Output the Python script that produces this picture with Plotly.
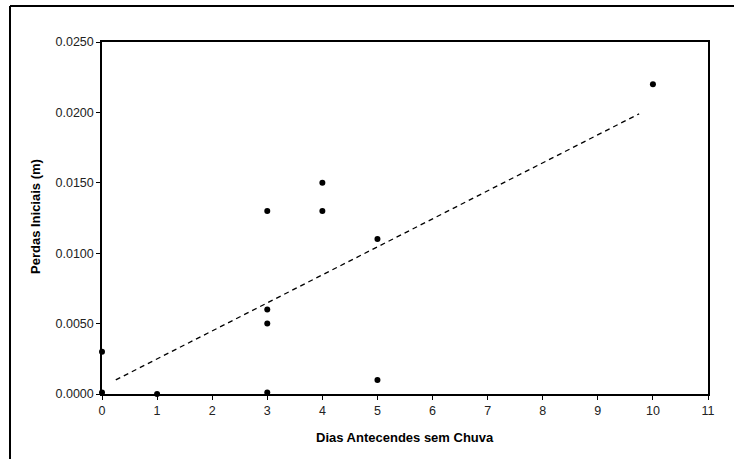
import plotly.graph_objects as go

# Data
dias = [0, 0, 1, 3, 3, 3, 3, 4, 4, 5, 5, 10]
perdas = [0.0030, 0.0001, 0.0000, 0.0130, 0.0060, 0.0050, 0.0001, 0.0150, 0.0130, 0.0110, 0.0010, 0.0220]

# Trend line endpoints (as drawn)
trend_x = [0.25, 9.75]
trend_y = [0.00100, 0.01990]

x_ticks = list(range(0, 12))
y_ticks = [0.0, 0.005, 0.010, 0.015, 0.020, 0.025]
y_tick_labels = ["0.0000", "0.0050", "0.0100", "0.0150", "0.0200", "0.0250"]

W, H = 734, 459
L, R, T, B = 102, 26, 42, 65
pw, ph = W - L - R, H - T - B

def px_x(p):
    return (p - L) / pw

def px_y(p):
    return (H - B - p) / ph

FONT = "Liberation Sans, Arial, sans-serif"

fig = go.Figure()
fig.add_trace(go.Scatter(
    x=trend_x, y=trend_y, mode="lines",
    line=dict(color="black", width=1.3, dash="5px,4px"),
    showlegend=False, hoverinfo="skip",
))
fig.add_trace(go.Scatter(
    x=dias, y=perdas, mode="markers",
    marker=dict(color="black", size=6),
    cliponaxis=False, showlegend=False,
))

fig.update_layout(
    width=W, height=H,
    margin=dict(l=L, r=R, t=T, b=B),
    paper_bgcolor="white", plot_bgcolor="white",
    font=dict(family=FONT, size=12.5, color="black"),
    xaxis=dict(
        range=[0, 11], tickvals=x_ticks, ticktext=[str(v) for v in x_ticks],
        showgrid=False, zeroline=False, showline=True, linecolor="black",
        linewidth=1.5, mirror=True, ticks="outside", ticklen=4,
        tickcolor="black", tickwidth=1, tickfont=dict(size=12.5, color="#222"),
    ),
    yaxis=dict(
        range=[0, 0.025], tickvals=y_ticks, ticktext=y_tick_labels,
        showgrid=False, zeroline=False, showline=True, linecolor="black",
        linewidth=1.5, mirror=True, ticks="outside", ticklen=4,
        tickcolor="black", tickwidth=1, tickfont=dict(size=12.5, color="#222"),
    ),
    annotations=[
        dict(text="<b>Dias Antecendes sem Chuva</b>", xref="paper", yref="paper",
             x=px_x(404.5), y=px_y(437), showarrow=False,
             font=dict(size=13), xanchor="center", yanchor="middle"),
        dict(text="<b>Perdas Iniciais (m)</b>", xref="paper", yref="paper",
             x=px_x(35), y=px_y(217), showarrow=False, textangle=-90,
             font=dict(size=13), xanchor="center", yanchor="middle"),
    ],
    shapes=[
        dict(type="line", xref="paper", yref="paper",
             x0=px_x(10), x1=px_x(740), y0=px_y(6), y1=px_y(6),
             line=dict(color="black", width=2)),
        dict(type="line", xref="paper", yref="paper",
             x0=px_x(10), x1=px_x(10), y0=px_y(6), y1=px_y(470),
             line=dict(color="black", width=2)),
    ],
)

fig.write_html("out.html", config={"displayModeBar": False},
               post_script="document.body.style.margin='0';")
